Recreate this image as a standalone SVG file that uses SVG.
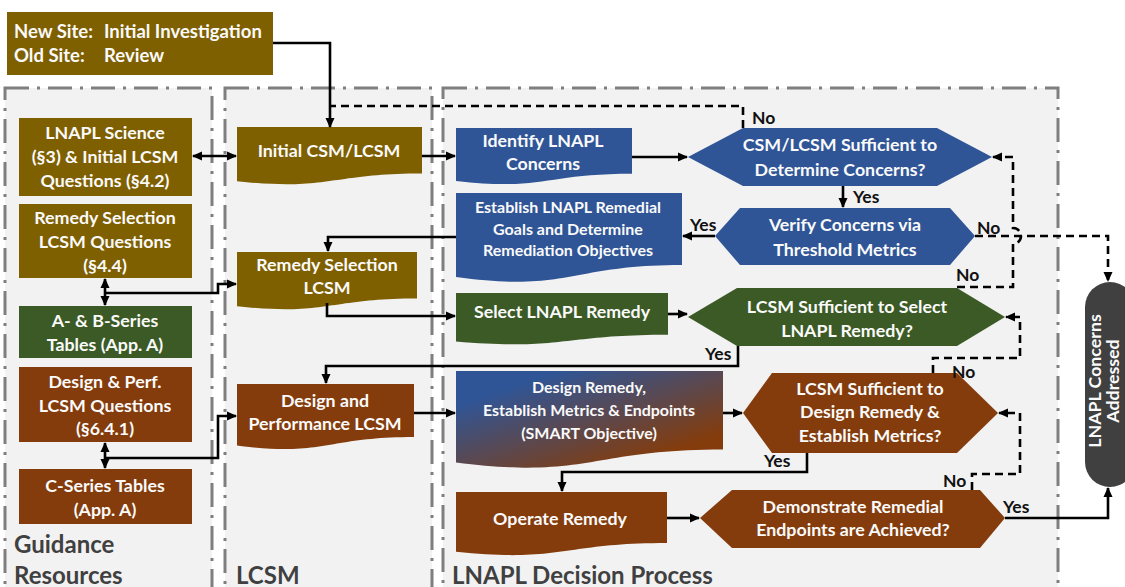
<svg xmlns="http://www.w3.org/2000/svg" width="1125" height="587" viewBox="0 0 1125 587">
<defs>
<style>
.t{font-family:Lato,"Liberation Sans",sans-serif;font-weight:bold;fill:#fafafa;text-anchor:middle;font-size:17.8px}
.s{font-size:16px}
.lbl{font-family:Lato,"Liberation Sans",sans-serif;font-weight:bold;fill:#111;font-size:17.5px}
.pl{font-family:Lato,"Liberation Sans",sans-serif;font-weight:bold;fill:#404040;font-size:24px}
.panel{fill:#f2f2f2;stroke:#7f7f7f;stroke-width:3;stroke-dasharray:24 8 3 8}
.c{fill:none;stroke:#000;stroke-width:2.6}
.d{fill:none;stroke:#000;stroke-width:2.6;stroke-dasharray:8 5}
.ol{fill:#7f6000}.br{fill:#843c0c}.gr{fill:#3b5a26}.bl{fill:#2f5597}
</style>
<marker id="ah" viewBox="0 0 10 10" refX="9" refY="5" markerWidth="10" markerHeight="10" markerUnits="userSpaceOnUse" orient="auto-start-reverse"><path d="M0,0.5 L10,5 L0,9.5 z" fill="#000"/></marker>
<linearGradient id="g1" x1="0.05" y1="0.1" x2="0.9" y2="1"><stop offset="0.12" stop-color="#2f5597"/><stop offset="0.85" stop-color="#843c0c"/></linearGradient>
</defs>
<rect width="1125" height="587" fill="#fff"/>

<g id="panels">
<rect class="panel" x="5" y="88" width="207" height="530"/>
<rect class="panel" x="225" y="88" width="207" height="530"/>
<rect class="panel" x="443" y="88" width="615" height="530"/>
<text class="pl" x="14" y="553">Guidance</text>
<text class="pl" x="14" y="584">Resources</text>
<text class="pl" x="236" y="584">LCSM</text>
<text class="pl" x="452" y="584">LNAPL Decision Process</text>
</g>

<g id="start">
<rect class="ol" x="7" y="12" width="266" height="63"/>
<text class="t" style="text-anchor:start;font-size:18.5px" x="14" y="38">New Site:</text>
<text class="t" style="text-anchor:start;font-size:18.5px" x="104" y="38">Initial Investigation</text>
<text class="t" style="text-anchor:start;font-size:18.5px" x="14" y="62">Old Site:</text>
<text class="t" style="text-anchor:start;font-size:18.5px" x="104" y="62">Review</text>
</g>

<g id="g_science"><rect class="ol" x="19" y="118" width="173" height="78"/>
<text class="t" x="105" y="139">LNAPL Science</text><text class="t" x="105" y="163">(§3) &amp; Initial LCSM</text><text class="t" x="105" y="187">Questions (§4.2)</text></g>
<g id="g_rsq"><rect class="ol" x="19" y="204" width="173" height="74"/>
<text class="t" x="105" y="224">Remedy Selection</text><text class="t" x="105" y="248">LCSM Questions</text><text class="t" x="105" y="272">(§4.4)</text></g>
<g id="g_ab"><rect class="gr" x="19" y="306" width="173" height="52"/>
<text class="t" x="105" y="327">A- &amp; B-Series</text><text class="t" x="105" y="351">Tables (App. A)</text></g>
<g id="g_dpq"><rect class="br" x="19" y="367" width="173" height="75"/>
<text class="t" x="105" y="388">Design &amp; Perf.</text><text class="t" x="105" y="412">LCSM Questions</text><text class="t" x="105" y="435">(§6.4.1)</text></g>
<g id="g_c"><rect class="br" x="19" y="469" width="173" height="55"/>
<text class="t" x="105" y="492">C-Series Tables</text><text class="t" x="105" y="516">(App. A)</text></g>

<g id="l_init"><path class="ol" d="M237,127 H422 V173.5 C329.5,173.5 329.5,191.2 237,181.2 Z"/>
<text class="t" x="329" y="157">Initial CSM/LCSM</text></g>
<g id="l_rs"><path class="ol" d="M237,252 H417 V298.5 C327,298.5 327,316.2 237,306.2 Z"/>
<text class="t" x="327" y="271">Remedy Selection</text><text class="t" x="327" y="294">LCSM</text></g>
<g id="l_dp"><path class="br" d="M237,384 H414 V437 C325.5,437 325.5,457 237,445.6 Z"/>
<text class="t" x="325" y="407">Design and</text><text class="t" x="325" y="430">Performance LCSM</text></g>

<g id="p_identify"><path class="bl" d="M456,128 H632 V173.7 C544,173.7 544,191 456,181 Z"/>
<text class="t" x="543" y="147">Identify LNAPL</text><text class="t" x="543" y="170">Concerns</text></g>
<g id="p_establish"><path class="bl" d="M456,193 H682 V265 C569,265 569,292.6 456,277 Z"/>
<text class="t s" x="568" y="213">Establish LNAPL Remedial</text><text class="t s" x="568" y="235">Goals and Determine</text><text class="t s" x="568" y="256">Remediation Objectives</text></g>
<g id="p_select"><path class="gr" d="M456,293 H668 V334.7 C562,334.7 562,350.6 456,341.6 Z"/>
<text class="t" x="562" y="318">Select LNAPL Remedy</text></g>
<g id="p_design"><path fill="url(#g1)" d="M456,371 H723 V449.6 C589.5,449.6 589.5,479.5 456,462.5 Z"/>
<text class="t s" x="589" y="393">Design Remedy,</text><text class="t s" x="589" y="416">Establish Metrics &amp; Endpoints</text><text class="t s" x="589" y="439">(SMART Objective)</text></g>
<g id="p_operate"><path class="br" d="M456,492 H667 V543 C561.5,543 561.5,562.8 456,551.8 Z"/>
<text class="t" x="560" y="525">Operate Remedy</text></g>

<g id="h_csm"><polygon class="bl" points="688,157 743,128 937,128 992,157 937,186 743,186"/>
<text class="t" x="840" y="151">CSM/LCSM Sufficient to</text><text class="t" x="840" y="176">Determine Concerns?</text></g>
<g id="h_verify"><polygon class="bl" points="715,236 740,208 950,208 975,236 950,265 740,265"/>
<text class="t" x="845" y="231">Verify Concerns via</text><text class="t" x="845" y="256">Threshold Metrics</text></g>
<g id="h_select"><polygon class="gr" points="688,317 737,288 957,288 1005,317 957,346 737,346"/>
<text class="t" x="847" y="313">LCSM Sufficient to Select</text><text class="t" x="847" y="337">LNAPL Remedy?</text></g>
<g id="h_design"><polygon class="br" points="743,413 772,373 957,373 998,413 957,453 772,453"/>
<text class="t" x="870" y="395">LCSM Sufficient to</text><text class="t" x="870" y="418">Design Remedy &amp;</text><text class="t" x="870" y="442">Establish Metrics?</text></g>
<g id="h_demo"><polygon class="br" points="700,518 732,490 980,490 1005,518 980,548 732,548"/>
<text class="t" x="853" y="513">Demonstrate Remedial</text><text class="t" x="853" y="536">Endpoints are Achieved?</text></g>

<g id="end"><rect x="1085" y="282" width="50" height="205" rx="25" fill="#404040"/>
<g transform="translate(1101,381) rotate(-90)"><text class="t" x="0" y="0">LNAPL Concerns</text><text class="t" x="0" y="17.5">Addressed</text></g></g>

<g id="connectors">
<path class="c" d="M273,43 H330 V127" marker-end="url(#ah)"/>
<path class="d" d="M743,128 V106 H330"/>
<path class="c" d="M193,156 H236" marker-start="url(#ah)" marker-end="url(#ah)"/>
<path class="c" d="M422,156 H455" marker-end="url(#ah)"/>
<path class="c" d="M632,157 H687" marker-end="url(#ah)"/>
<path class="c" d="M843,186 V207" marker-end="url(#ah)"/>
<path class="c" d="M715,236 H683" marker-end="url(#ah)"/>
<path class="c" d="M456,237 H328 V251" marker-end="url(#ah)"/>
<path class="c" d="M105,279 V305" marker-start="url(#ah)" marker-end="url(#ah)"/>
<path class="c" d="M105,293 H218 V284 H236" marker-end="url(#ah)"/>
<path class="c" d="M327,303 V316 H455" marker-end="url(#ah)"/>
<path class="c" d="M668,314 H687" marker-end="url(#ah)"/>
<path class="c" d="M738,346 V366 H326 V383" marker-end="url(#ah)"/>
<path class="c" d="M105,443 V468" marker-start="url(#ah)" marker-end="url(#ah)"/>
<path class="c" d="M105,458 H218 V416 H236" marker-end="url(#ah)"/>
<path class="c" d="M414,413 H455" marker-end="url(#ah)"/>
<path class="c" d="M723,413 H742" marker-end="url(#ah)"/>
<path class="c" d="M807,453 V472 H562 V491" marker-end="url(#ah)"/>
<path class="c" d="M667,518 H699" marker-end="url(#ah)"/>
<path class="c" d="M1005,518 H1108 V488" marker-end="url(#ah)"/>
<path class="d" d="M975,236 H1108 V281" marker-end="url(#ah)"/>
<path class="d" d="M957,287 H1013 V244 A8,8 0 0 0 1013,228 V157 H993" marker-end="url(#ah)"/>
<path class="d" d="M933,373 V358 H1020 V317 H1006" marker-end="url(#ah)"/>
<path class="d" d="M972,490 V474 H1020 V413 H999" marker-end="url(#ah)"/>
<text class="lbl" x="752" y="124">No</text>
<text class="lbl" x="853" y="203">Yes</text>
<text class="lbl" x="690" y="231">Yes</text>
<text class="lbl" x="977" y="234">No</text>
<text class="lbl" x="956" y="281">No</text>
<text class="lbl" x="705" y="360">Yes</text>
<text class="lbl" x="952" y="378">No</text>
<text class="lbl" x="764" y="467">Yes</text>
<text class="lbl" x="943" y="487">No</text>
<text class="lbl" x="1003" y="513">Yes</text>
</g>
</svg>
